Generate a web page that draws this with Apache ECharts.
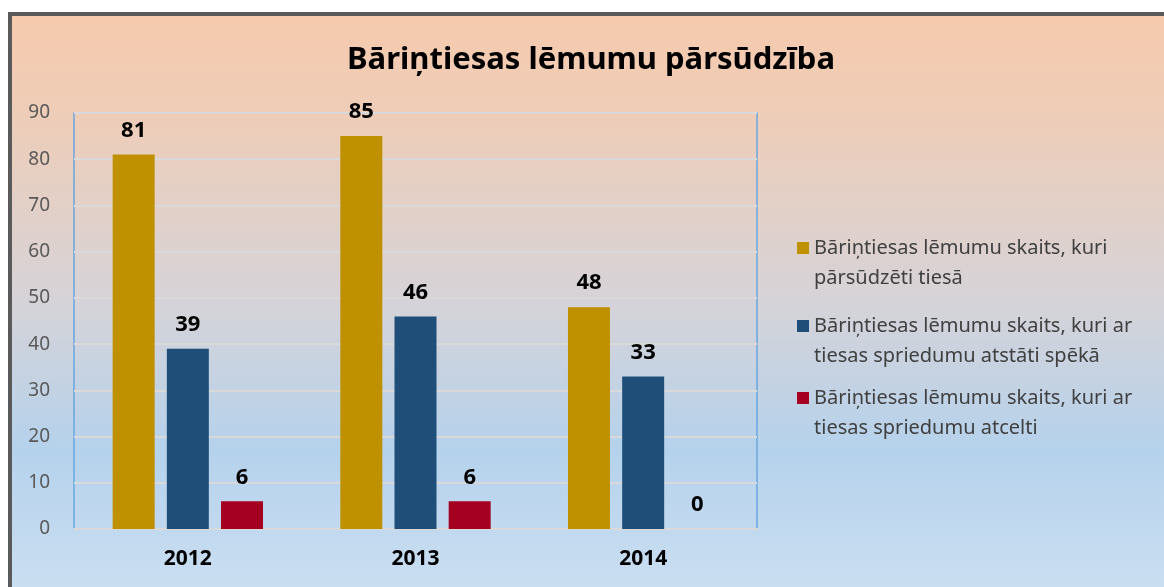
<!DOCTYPE html>
<html>
<head>
<meta charset="utf-8">
<script src="https://cdn.jsdelivr.net/npm/echarts@6/dist/echarts.min.js"></script>
<style>
  html, body { margin: 0; padding: 0; background: #ffffff; }
  #chart { width: 1164px; height: 587px; }
</style>
</head>
<body>
<div id="chart"></div>
<script>
// Court appeals of orphan's court decisions, per year
const years = ['2012', '2013', '2014'];
const appealed = [81, 85, 48];      // decisions appealed in court
const upheld = [39, 46, 33];        // decisions upheld by court ruling
const annulled = [6, 6, 0];         // decisions annulled by court ruling
const yTicks = [0, 10, 20, 30, 40, 50, 60, 70, 80, 90];

const seriesNames = [
  'Bāriņtiesas lēmumu skaits, kuri pārsūdzēti tiesā',
  'Bāriņtiesas lēmumu skaits, kuri ar tiesas spriedumu atstāti spēkā',
  'Bāriņtiesas lēmumu skaits, kuri ar tiesas spriedumu atcelti'
];
const legendLines = [
  'Bāriņtiesas lēmumu skaits, kuri\npārsūdzēti tiesā',
  'Bāriņtiesas lēmumu skaits, kuri ar\ntiesas spriedumu atstāti spēkā',
  'Bāriņtiesas lēmumu skaits, kuri ar\ntiesas spriedumu atcelti'
];
const colors = ['#BF9000', '#1F4E79', '#A50021'];
const FONT = '"Noto Sans", "Open Sans", sans-serif';

// Square swatch sitting at the top of a tall icon box, so it lines up
// with the first line of a two-line legend entry.
const TOP_SQUARE = 'path://M0,0L12,0L12,12L0,12Z M0,41.95L0.05,41.95L0.05,42L0,42Z';

const chart = echarts.init(document.getElementById('chart'), null, { renderer: 'canvas' });

const labelStyle = {
  show: true,
  position: 'top',
  distance: 13,
  fontFamily: FONT,
  fontWeight: 'bold',
  fontSize: 22,
  color: '#000000'
};

function legendFor(i, top) {
  return {
    data: [seriesNames[i]],
    left: 792,
    top: top,
    orient: 'vertical',
    icon: TOP_SQUARE,
    itemWidth: 12,
    itemHeight: 42,
    itemSymbolKeepAspect: true,
    selectedMode: false,
    formatter: () => legendLines[i],
    textStyle: {
      fontFamily: FONT,
      fontSize: 20,
      color: '#404040',
      lineHeight: 30
    }
  };
}

chart.setOption({
  animation: false,
  color: colors,
  graphic: [
    {
      type: 'rect',
      z: -10,
      shape: { x: 10, y: 14, width: 1154, height: 573 },
      style: {
        fill: new echarts.graphic.LinearGradient(0, 0, 0, 1, [
          { offset: 0, color: '#F6CAAD' },
          { offset: 0.18, color: '#EECDB8' },
          { offset: 0.5, color: '#D6D3D8' },
          { offset: 0.76, color: '#B5D2EC' },
          { offset: 1, color: '#CADEF1' }
        ])
      },
      silent: true
    },
    {
      type: 'rect', z: -9,
      shape: { x: 8, y: 12, width: 1156, height: 4 },
      style: { fill: '#5A5A5A' }, silent: true
    },
    {
      type: 'rect', z: -9,
      shape: { x: 8, y: 12, width: 4, height: 575 },
      style: { fill: '#5A5A5A' }, silent: true
    }
  ],
  title: {
    text: 'Bāriņtiesas lēmumu pārsūdzība',
    left: 586,
    textAlign: 'center',
    top: 40,
    textStyle: {
      fontFamily: FONT,
      fontWeight: 'bold',
      fontSize: 31,
      color: '#000000'
    }
  },
  legend: [legendFor(0, 228), legendFor(1, 306), legendFor(2, 378)],
  grid: {
    left: 74,
    right: 407,
    top: 113,
    bottom: 58,
    show: true,
    borderColor: '#6AA6DE',
    borderWidth: 1.5,
    backgroundColor: 'transparent',
    containLabel: false
  },
  xAxis: {
    type: 'category',
    data: years,
    axisTick: { show: false },
    axisLine: { show: true, lineStyle: { color: '#D9D9D9', width: 2 } },
    axisLabel: {
      margin: 20,
      fontFamily: FONT,
      fontWeight: 'bold',
      fontSize: 21,
      color: '#000000'
    }
  },
  yAxis: {
    type: 'value',
    min: yTicks[0],
    max: yTicks[yTicks.length - 1],
    interval: 10,
    axisLine: { show: false },
    axisTick: { show: false },
    splitLine: { lineStyle: { color: '#D9D9D9', width: 2 } },
    axisLabel: {
      margin: 24,
      fontFamily: FONT,
      fontSize: 19,
      color: '#595959'
    }
  },
  series: [
    { name: seriesNames[0], type: 'bar', data: appealed, barWidth: 42, barGap: '29%', label: labelStyle },
    { name: seriesNames[1], type: 'bar', data: upheld, barWidth: 42, barGap: '29%', label: labelStyle },
    { name: seriesNames[2], type: 'bar', data: annulled, barWidth: 42, barGap: '29%', label: labelStyle }
  ]
});
</script>
</body>
</html>
